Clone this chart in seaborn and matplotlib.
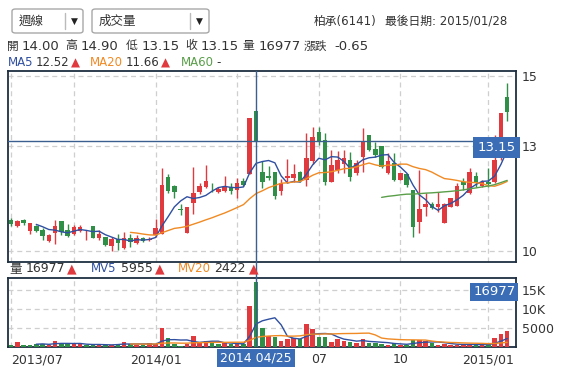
import matplotlib
matplotlib.use("Agg")
import matplotlib.pyplot as plt
from matplotlib.patches import FancyBboxPatch
from matplotlib.lines import Line2D
import seaborn as sns
import numpy as np
import pandas as pd

# weekly candles, 2013/07 .. 2015/01/28
opens = [10.90, 10.71, 10.88, 10.58, 10.71, 10.61, 10.29, 10.52, 10.86, 10.60,
         10.49, 10.58, 10.56, 10.71, 10.36, 10.40, 10.14, 10.35, 10.09, 10.38,
         10.24, 10.36, 10.31, 10.46, 10.50, 12.12, 11.86, 11.20, 10.52, 11.38,
         11.69, 11.84, 11.80, 11.69, 11.72, 11.84, 11.74, 12.00, 12.19, 14.00,
         12.25, 12.14, 12.25, 11.72, 12.08, 12.10, 12.27, 12.03, 12.58, 13.39,
         13.16, 11.98, 12.32, 12.50, 12.60, 12.23, 12.70, 13.31, 12.91, 13.00,
         12.22, 12.52, 12.03, 12.19, 11.73, 10.84, 11.25, 11.34, 11.25, 10.79,
         11.25, 11.29, 11.98, 11.65, 12.14, 11.86, 11.98, 11.98, 12.75, 14.39]
highs = [10.93, 10.89, 10.91, 10.81, 10.73, 10.65, 10.50, 10.90, 10.86, 10.77,
         10.74, 10.74, 10.60, 10.71, 10.60, 10.41, 10.41, 10.49, 10.55, 10.50,
         10.45, 10.40, 10.40, 10.91, 12.38, 12.20, 11.89, 11.35, 11.25, 12.39,
         11.95, 12.45, 11.95, 11.82, 12.14, 11.94, 12.10, 12.10, 13.80, 14.00,
         12.58, 12.44, 12.25, 12.05, 12.62, 12.50, 12.29, 13.38, 13.55, 13.55,
         13.38, 12.90, 12.87, 12.89, 12.84, 12.60, 13.50, 13.31, 13.12, 13.00,
         12.81, 12.81, 12.24, 12.22, 11.73, 12.31, 11.65, 11.40, 11.69, 11.36,
         11.52, 11.95, 12.10, 12.36, 12.27, 12.02, 12.36, 13.31, 13.93, 14.79]
lows = [10.71, 10.68, 10.73, 10.50, 10.54, 10.31, 10.27, 10.20, 10.46, 10.41,
        10.46, 10.55, 10.31, 10.38, 10.31, 10.14, 10.00, 10.03, 10.06, 10.12,
        10.20, 10.25, 10.28, 10.41, 10.50, 11.65, 11.52, 11.02, 10.52, 11.06,
        11.62, 11.79, 11.69, 11.66, 11.68, 11.62, 11.52, 11.85, 12.19, 13.15,
        11.79, 12.03, 11.50, 11.60, 11.93, 11.98, 11.98, 11.86, 12.49, 13.03,
        11.89, 11.98, 12.22, 12.22, 12.00, 12.18, 12.27, 12.85, 12.70, 12.37,
        12.20, 12.00, 12.03, 11.84, 10.41, 10.52, 11.00, 11.20, 11.12, 10.79,
        11.25, 11.29, 11.74, 11.63, 11.84, 11.84, 11.84, 11.93, 12.60, 13.72]
closes = [10.77, 10.86, 10.80, 10.79, 10.58, 10.44, 10.46, 10.71, 10.55, 10.44,
          10.68, 10.69, 10.58, 10.38, 10.50, 10.18, 10.35, 10.24, 10.38, 10.27,
          10.38, 10.29, 10.33, 10.66, 11.90, 11.72, 11.70, 11.18, 11.25, 11.65,
          11.86, 12.00, 11.79, 11.76, 11.82, 11.72, 11.95, 11.90, 13.80, 13.15,
          11.98, 12.10, 11.57, 11.93, 12.14, 12.20, 12.01, 12.66, 13.27, 13.11,
          11.98, 12.46, 12.60, 12.65, 12.12, 12.51, 13.15, 12.89, 12.74, 12.41,
          12.58, 12.03, 12.22, 11.89, 10.70, 11.19, 11.34, 11.24, 11.34, 11.35,
          11.52, 11.86, 11.89, 12.27, 11.95, 11.98, 11.91, 12.60, 13.93, 13.98]
volumes = [300, 1100, 450, 400, 750, 750, 500, 1350, 750, 750,
           600, 600, 350, 350, 750, 350, 350, 750, 1100, 750,
           400, 400, 800, 600, 4900, 2200, 600, 250, 700, 2900,
           1000, 1500, 900, 700, 800, 700, 700, 650, 10750, 16977,
           4900, 2850, 2500, 1400, 1900, 2250, 1900, 5900, 4500, 2450,
           2450, 1200, 2100, 1550, 1200, 1050, 1900, 1050, 1050, 600,
           500, 800, 500, 500, 1650, 1650, 1400, 800, 500, 750,
           500, 500, 500, 500, 500, 500, 350, 2350, 3400, 4000]

grid_weeks = [0, 10, 23, 36, 49, 62, 76]
grid_labels = ["2013/07", "", "2014/01", "", "07", "10", "2015/01"]
price_ticks = [10, 13, 15]
vol_ticks = [5000, 10000, 15000]
vol_tick_labels = ["5000", "10K", "15K"]
cursor_week = 39
cursor_date = "2014 04/25"
cursor_price = 13.15

RED, GREEN = "#e03a3e", "#2f8f46"
BLUE, ORANGE, MA60_GREEN = "#2f4fa0", "#f08a24", "#5a9e4a"
CROSS, TAG = "#3b5f8f", "#3a6db5"
BORDER, TXT, GRID = "#1f2f42", "#333333", "#cfcfcf"

sns.set_theme(style="white")
plt.rcParams["font.family"] = ["DejaVu Sans", "Noto Sans CJK TC"]

df = pd.DataFrame({"open": opens, "high": highs, "low": lows,
                   "close": closes, "volume": volumes})
df["week"] = np.arange(len(df))
df["ma5"] = df["close"].rolling(5).mean()
df["ma20"] = df["close"].rolling(20).mean()
df["ma60"] = df["close"].rolling(60).mean()
df["mv5"] = df["volume"].rolling(5).mean()
df["mv20"] = df["volume"].rolling(20).mean()
up = df["close"] >= df["open"]
vol_up = df["close"] >= df["close"].shift(1)
vol_up.iloc[0] = up.iloc[0]

W, H = 577, 379
fig = plt.figure(figsize=(W / 100, H / 100), dpi=100)


def box(l, t, r, b):
    return [l / W, 1 - b / H, (r - l) / W, (b - t) / H]


def ftext(x, y, s, **kw):
    kw.setdefault("fontsize", 9)
    kw.setdefault("color", TXT)
    kw.setdefault("va", "center")
    fig.text(x / W, 1 - y / H, s, **kw)


ax = fig.add_axes(box(8, 70.5, 516, 262))
axv = fig.add_axes(box(8, 277.5, 516, 346.5))

# candles
cols = np.where(up, RED, GREEN)
ax.vlines(df["week"], df["low"], df["high"], colors=cols, lw=1, zorder=3)
body = (df["close"] - df["open"]).abs().clip(lower=0.02)
ax.bar(df["week"], body, bottom=np.minimum(df["open"], df["close"]),
       width=0.72, color=cols, linewidth=0, zorder=4)
sns.lineplot(x=df["week"], y=df["ma5"], ax=ax, color=BLUE, lw=1, zorder=5)
sns.lineplot(x=df["week"], y=df["ma20"], ax=ax, color=ORANGE, lw=1, zorder=5)
sns.lineplot(x=df["week"], y=df["ma60"], ax=ax, color=MA60_GREEN, lw=1, zorder=5)

# volume
axv.bar(df["week"], df["volume"], width=0.72, linewidth=0,
        color=np.where(vol_up, RED, GREEN), zorder=3)
sns.lineplot(x=df["week"], y=df["mv5"], ax=axv, color=BLUE, lw=1, zorder=4)
sns.lineplot(x=df["week"], y=df["mv20"], ax=axv, color=ORANGE, lw=1, zorder=4)

for a in (ax, axv):
    a.set_xlim(-0.5, 80.4)
    a.set_xlabel("")
    a.set_ylabel("")
    a.yaxis.tick_right()
    a.set_xticks(grid_weeks)
    a.grid(True, ls=(0, (4, 3)), color=GRID, lw=0.9)
    a.set_axisbelow(True)
    a.tick_params(length=0, labelsize=9, colors=TXT, pad=4)
    for s in a.spines.values():
        s.set_color(BORDER)
        s.set_linewidth(1.3)
    a.axvline(cursor_week, color=CROSS, lw=1, zorder=6)

ax.set_ylim(9.686, 15.157)
ax.set_yticks(price_ticks)
ax.set_xticklabels([])
ax.axhline(cursor_price, color=CROSS, lw=1, zorder=6)
ax.text(80.3, cursor_price, f"{cursor_price:.2f}", ha="right", va="top",
        color="white", fontsize=9.5, zorder=7,
        bbox=dict(facecolor=TAG, edgecolor="none", pad=3))

axv.set_ylim(0, 18250)
axv.set_yticks(vol_ticks)
axv.set_yticklabels(vol_tick_labels)
axv.set_xticklabels(grid_labels)
axv.tick_params(axis="x", pad=5)
axv.get_xticklabels()[0].set_ha("left")
axv.text(80.3, volumes[cursor_week] - 800, str(volumes[cursor_week]),
         ha="right", va="top", color="white", fontsize=9.5, zorder=7,
         bbox=dict(facecolor=TAG, edgecolor="none", pad=2))
axv.text(cursor_week, -0.07, cursor_date, transform=axv.get_xaxis_transform(),
         ha="center", va="top", color="white", fontsize=9, zorder=7,
         bbox=dict(facecolor=TAG, edgecolor="none", pad=2))
fig.add_artist(Line2D([256 / W, 256 / W], [1 - 262 / H, 1 - 277.5 / H],
                      color=CROSS, lw=1))

# header: dropdowns
for l, r, sep, label in [(12, 83, 65, "週線"), (92, 209, 190, "成交量")]:
    fig.add_artist(FancyBboxPatch((l / W, 1 - 33 / H), (r - l) / W, 24 / H,
                                  boxstyle="round,pad=0,rounding_size=0.006",
                                  transform=fig.transFigure, fc="white",
                                  ec="#a8a8a8", lw=1))
    fig.add_artist(Line2D([sep / W, sep / W], [1 - 13 / H, 1 - 29 / H],
                          color="#bbbbbb", lw=1))
    ftext(l + 7, 21, label)
    ftext(sep + 9, 21.5, "▼", fontsize=6.5, ha="center", color="#222222")

ftext(376, 21, "柏承(6141)", ha="right", fontsize=8.5)
ftext(507, 21, "最後日期: 2015/01/28", ha="right", fontsize=8.5)

for x, s in [(7, "開"), (22, "14.00"), (65, "高"), (81, "14.90"),
             (126, "低"), (142, "13.15"), (185, "收"), (201, "13.15"),
             (242, "量"), (259, "16977"), (304, "漲跌"), (334, "-0.65")]:
    numeric = s[0].isdigit() or s[0] == "-"
    ftext(x, 46, s, fontsize=9.5 if numeric else 8.5)

for x, s, c in [(8, "MA5", BLUE), (36, "12.52", TXT), (71, "▲", RED),
                (90, "MA20", ORANGE), (126, "11.66", TXT), (161, "▲", RED),
                (181, "MA60", MA60_GREEN), (216, "-", TXT)]:
    ftext(x, 63, s, color=c, fontsize=8.5)

for x, s, c in [(9, "量", TXT), (26, "16977", TXT), (67, "▲", RED),
                (91, "MV5", BLUE), (121, "5955", TXT), (155, "▲", RED),
                (178, "MV20", ORANGE), (214, "2422", TXT), (249, "▲", RED)]:
    ftext(x, 269, s, color=c, fontsize=8.5 if s.startswith("MV") else 9)

fig.savefig("out.png", dpi=100)
